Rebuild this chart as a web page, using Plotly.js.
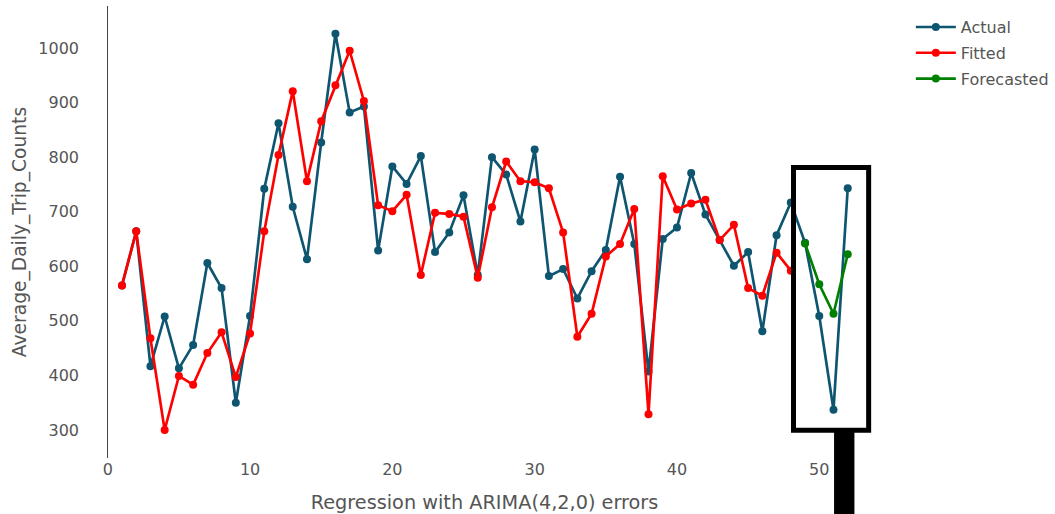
<!DOCTYPE html>
<html>
<head>
<meta charset="utf-8">
<script src="https://cdn.plot.ly/plotly-3.0.1.min.js"></script>
<style>html,body{margin:0;padding:0;background:#fff;}#chart{width:1055px;height:514px;}</style>
</head>
<body>
<div id="chart"></div>
<script>
// Data
const actualX = [1,2,3,4,5,6,7,8,9,10,11,12,13,14,15,16,17,18,19,20,21,22,23,24,25,26,27,28,29,30,31,32,33,34,35,36,37,38,39,40,41,42,43,44,45,46,47,48,49,50,51,52];
const actualY = [565,664,417,508,413,456,606,560,350,509,742,862,709,613,827,1026,882,893,629,783,751,802,626,662,730,584,800,768,682,814,582,595,541,591,630,764,641,407,650,671,771,695,648,601,626,481,657,717,643,509,337,743];
const fittedX = [1,2,3,4,5,6,7,8,9,10,11,12,13,14,15,16,17,18,19,20,21,22,23,24,25,26,27,28,29,30,31,32,33,34,35,36,37,38,39,40,41,42,43,44,45,46,47,48];
const fittedY = [565,664,468,300,399,383,441,479,397,477,664,804,921,756,866,932,995,903,712,701,731,584,698,696,691,579,708,792,756,754,743,662,471,513,618,641,705,329,765,704,715,722,648,676,560,546,625,592];
const forecastX = [49,50,51,52];
const forecastY = [642,567,513,622];
const seriesNames = ["Actual","Fitted","Forecasted"];
const xTitle = "Regression with ARIMA(4,2,0) errors";
const yTitle = "Average_Daily_Trip_Counts";

const FONT = '"DejaVu Sans", Verdana, sans-serif';
const mk = (x, y, name, color) => ({
  x: x, y: y, name: name, legendgroup: name, type: 'scatter', mode: 'lines+markers',
  line: {color: color, width: 2.67},
  marker: {color: color, size: 8}
});

const data = [
  mk(actualX, actualY, seriesNames[0], '#0e5570'),
  mk(fittedX, fittedY, seriesNames[1], '#ff0000'),
  mk(forecastX, forecastY, seriesNames[2], '#008000')
];

const layout = {
  width: 1055, height: 514,
  margin: {l: 80, r: 166, t: 6, b: 56, autoexpand: false},
  paper_bgcolor: '#fff', plot_bgcolor: '#fff',
  font: {family: FONT, size: 16, color: '#555'},
  showlegend: true,
  legend: {x: 1.027, xanchor: 'left', y: 0.991, yanchor: 'top', traceorder: 'grouped',
           font: {family: FONT, size: 16, color: '#555'}, itemwidth: 40, tracegroupgap: 2},
  xaxis: {
    range: [-1.95, 54.9], showgrid: false, zeroline: true, zerolinecolor: '#444', zerolinewidth: 1.33,
    showline: false, ticks: '', dtick: 10, tick0: 0,
    tickfont: {family: FONT, size: 16, color: '#555'},
    title: {text: xTitle, font: {family: FONT, size: 19.3, color: '#555'}}
  },
  yaxis: {
    range: [248.7, 1077], showgrid: false, zeroline: false, showline: false, ticks: '',
    dtick: 100, tick0: 0,
    tickfont: {family: FONT, size: 16, color: '#555'},
    title: {text: yTitle, standoff: 6, font: {family: FONT, size: 18.67, color: '#555'}}
  },
  shapes: [
    {type: 'rect', xref: 'x', yref: 'y', x0: 48.19, x1: 53.47, y0: 299.4, y1: 781.2,
     line: {color: '#000', width: 5}, fillcolor: 'rgba(0,0,0,0)', layer: 'above'},
    {type: 'rect', xref: 'x', yref: 'paper', x0: 51.04, x1: 52.47, y0: -0.14, y1: 0.06,
     line: {width: 0}, fillcolor: '#000', layer: 'above'}
  ]
};

Plotly.newPlot('chart', data, layout, {displayModeBar: false, staticPlot: true});
</script>
</body>
</html>
